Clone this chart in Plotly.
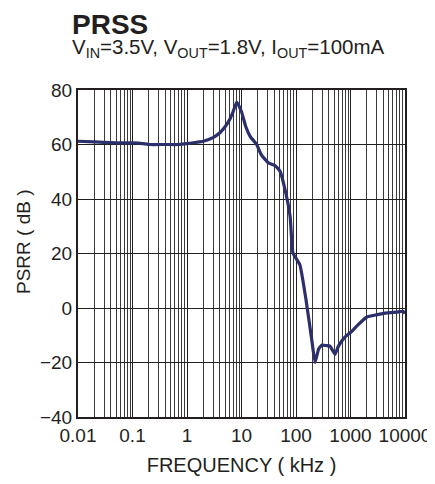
import plotly.graph_objects as go

freq_khz = [0.01, 0.02, 0.03, 0.05, 0.1, 0.13, 0.2, 0.4, 0.7, 1, 1.5, 2, 3, 4, 5, 6, 7, 8.2,
            10, 12, 14.4, 19, 23, 31, 41, 51, 63, 78, 88, 118, 150, 195, 224, 260, 300, 360,
            420, 520, 600, 790, 1000, 1400, 2000, 3000, 4700, 7000, 9200, 10000]
psrr_db = [61.2, 61.0, 60.8, 60.6, 60.6, 60.5, 60.0, 60.0, 60.0, 60.3, 60.8, 61.2, 62.5, 64.3, 66.5, 69.0, 72.0, 75.6,
           72.0, 66.5, 63.0, 60.0, 56.3, 53.3, 52.3, 50.2, 43.4, 33.6, 20.2, 15.8, 4.0, -11.8, -20.0, -15.0, -13.6, -13.8,
           -14.0, -17.0, -14.0, -10.7, -9.0, -6.0, -3.3, -2.5, -1.8, -1.5, -1.2, -2.0]

x_tickvals = [0.01, 0.1, 1, 10, 100, 1000, 10000]
x_ticktext = ["0.01", "0.1", "1", "10", "100", "1000", "10000"]
y_tickvals = [-40, -20, 0, 20, 40, 60, 80]

FONT = "Arial, Liberation Sans, sans-serif"
INK = "#231f20"

# page body has an 8px default margin; figure coords = page coords - 8
OFF = 8
W, H = 435 - OFF, 484 - 2 * OFF
L, T, R, B = 78 - OFF, 90 - OFF, 405 - OFF, 417 - OFF
PW, PH = R - L, B - T

fig = go.Figure()
fig.add_trace(go.Scatter(x=freq_khz, y=psrr_db, mode="lines",
                         line=dict(color="#2b2f6b", width=3.2, shape="spline", smoothing=0.4),
                         showlegend=False))

fig.update_layout(
    width=W, height=H,
    margin=dict(l=L, r=W - R, t=T, b=H - B, pad=0),
    paper_bgcolor="white", plot_bgcolor="white",
    font=dict(family=FONT, color=INK),
    xaxis=dict(type="log", range=[-2, 4], tickvals=x_tickvals, ticktext=x_ticktext,
               tickfont=dict(size=19), showgrid=True, gridcolor=INK, gridwidth=1.2,
               minor=dict(dtick="D1", showgrid=True, gridcolor="#3a3a3a", gridwidth=1),
               showline=True, linecolor=INK, linewidth=2, mirror=True,
               ticks="", zeroline=False, automargin=False, ticklabeloverflow="allow",
               title=dict(text="FREQUENCY ( kHz )", font=dict(size=20), standoff=18)),
    yaxis=dict(range=[-40, 80], tickvals=y_tickvals, tickfont=dict(size=19),
               showgrid=True, gridcolor=INK, gridwidth=1.2,
               showline=True, linecolor=INK, linewidth=2, mirror=True,
               ticks="", zeroline=False, automargin=False, ticklabeloverflow="allow"),
)

fig.add_annotation(text="PSRR ( dB )", xref="paper", yref="paper",
                   x=(24 - 78) / PW, y=(417 - 242) / PH, xanchor="center", yanchor="middle",
                   textangle=-90, showarrow=False, font=dict(size=19, family=FONT, color=INK))
fig.add_annotation(text="<b>PRSS</b>", xref="paper", yref="paper",
                   x=(70 - 78) / PW, y=1 + (90 - 7) / PH, xanchor="left", yanchor="top",
                   showarrow=False, font=dict(size=28, family=FONT, color=INK))
fig.add_annotation(text="V<sub>IN</sub>=3.5V, V<sub>OUT</sub>=1.8V, I<sub>OUT</sub>=100mA",
                   xref="paper", yref="paper",
                   x=(70 - 78) / PW, y=1 + (90 - 33) / PH, xanchor="left", yanchor="top",
                   showarrow=False, font=dict(size=20.5, family=FONT, color=INK))

fig.write_html("out.html")
